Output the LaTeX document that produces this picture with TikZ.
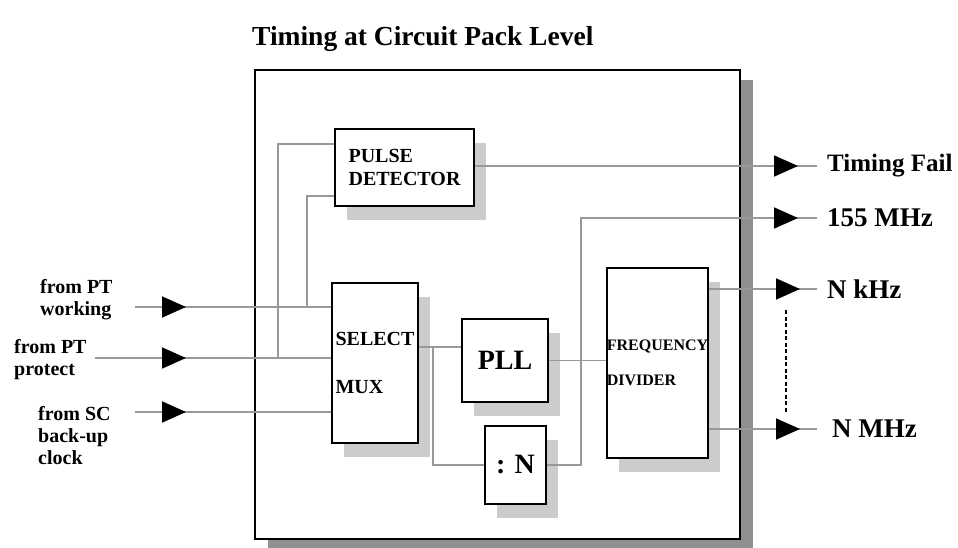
\documentclass[tikz,border=0pt]{standalone}
\usepackage{fontspec}
\setmainfont{Liberation Serif}
\usetikzlibrary{arrows.meta,positioning,shadows,decorations.markings}
\definecolor{wiregray}{HTML}{999999}
\definecolor{shadelight}{HTML}{CCCCCC}
\definecolor{shadedark}{HTML}{8F8F8F}

\begin{document}
\begin{tikzpicture}[x=1pt,y=-1pt,
    box/.style={rectangle,draw=black,line width=2pt,fill=white,inner sep=0pt,
                align=left,font=\bfseries},
    unit/.style={box,drop shadow={shadow xshift=12pt,shadow yshift=-14pt,
                                  fill=shadelight,opacity=1}},
    framebox/.style={box,line width=2.4pt,
                     drop shadow={shadow xshift=13pt,shadow yshift=-10pt,
                                  fill=shadedark,opacity=1}},
    wire/.style={wiregray,line width=1.8pt},
    midtip/.style={postaction={decorate,decoration={markings,
                   mark=at position #1 with
                   {\arrow{Triangle[length=24pt,width=21pt,color=black]}}}}},
    inlbl/.style={anchor=north west,inner sep=0pt,align=left,
                  font=\fontsize{20}{22}\selectfont\bfseries},
    outlbl/.style={anchor=west,inner sep=0pt,
                   font=\fontsize{27}{30}\selectfont\bfseries}
  ]
    \useasboundingbox (0,0) rectangle (958,548);

    \node[anchor=base west,inner sep=0pt,font=\fontsize{27.5}{30}\selectfont\bfseries]
      (title) at (252,46) {Timing at Circuit Pack Level};

    \node[framebox,minimum width=485pt,minimum height=469pt] (pack) at (497.5,304.5) {};

    \node[unit,minimum width=139pt,minimum height=77pt,
          font=\fontsize{20}{23}\selectfont\bfseries] (pulse) at (404.5,167.5) {PULSE\\DETECTOR};
    \node[unit,minimum width=86pt,minimum height=160pt,
          font=\fontsize{20}{48}\selectfont\bfseries] (mux) at (375,363) {SELECT\\MUX};
    \node[unit,minimum width=86pt,minimum height=83pt,
          font=\fontsize{28}{30}\selectfont\bfseries] (pll) at (505,360.5) {PLL};
    \node[unit,minimum width=61pt,minimum height=78pt,
          font=\fontsize{28}{30}\selectfont\bfseries] (divn) at (515.5,465) {: N};
    \node[unit,minimum width=101pt,minimum height=190pt,
          font=\fontsize{16}{35}\selectfont\bfseries] (div) at (657.5,363) {FREQUENCY\\DIVIDER};

    % inputs
    \node[inlbl] (lwork) at (40,279) {from PT\\working};
    \node[inlbl] (lprot) at (14,339) {from PT\\protect};
    \node[inlbl] (lsc) at (38,406) {from SC\\back-up\\clock};

    \coordinate (inW) at (135,307);
    \coordinate (inP) at (95,358);
    \coordinate (inS) at (135,412);
    \draw[wire,midtip=-145pt] (inW) -- (inW -| mux.west);
    \draw[wire,midtip=-145pt] (inP) -- (inP -| mux.west);
    \draw[wire,midtip=-145pt] (inS) -- (inS -| mux.west);

    \coordinate (jtop) at (278,144);
    \coordinate (jlow) at (307,196);
    \draw[wire] (jtop |- inP) -- (jtop) -- (jtop -| pulse.west);
    \draw[wire] (jlow |- inW) -- (jlow) -- (jlow -| pulse.west);

    \coordinate (jmux) at (433,347);
    \draw[wire] (jmux -| mux.east) -- (jmux -| pll.west);
    \draw[wire] (jmux) |- (divn.west);
    \draw[wire] (pll.east) -- (pll.east -| div.west);

    % outputs
    \coordinate (ofail) at (817,166);
    \coordinate (j155) at (581,218);
    \coordinate (o155) at (817,218);
    \coordinate (okhz) at (817,289);
    \coordinate (omhz) at (817,429);
    \draw[wire,midtip=-19pt] (ofail -| pulse.east) -- (ofail);
    \draw[wire,midtip=-19pt] (divn.east) -| (j155) -- (o155);
    \draw[wire,midtip=-17pt] (okhz -| div.east) -- (okhz);
    \draw[wire,midtip=-17pt] (omhz -| div.east) -- (omhz);
    \draw[black,line width=1.6pt,dash pattern=on 4pt off 2.5pt] (786,310) -- (786,412);

    \node[outlbl,right=10pt of ofail,font=\fontsize{25}{28}\selectfont\bfseries] (lfail) {Timing Fail};
    \node[outlbl,right=10pt of o155] (l155) {155 MHz};
    \node[outlbl,right=10pt of okhz] (lkhz) {N kHz};
    \node[outlbl,right=15pt of omhz] (lmhz) {N MHz};
  \end{tikzpicture}
\end{document}
